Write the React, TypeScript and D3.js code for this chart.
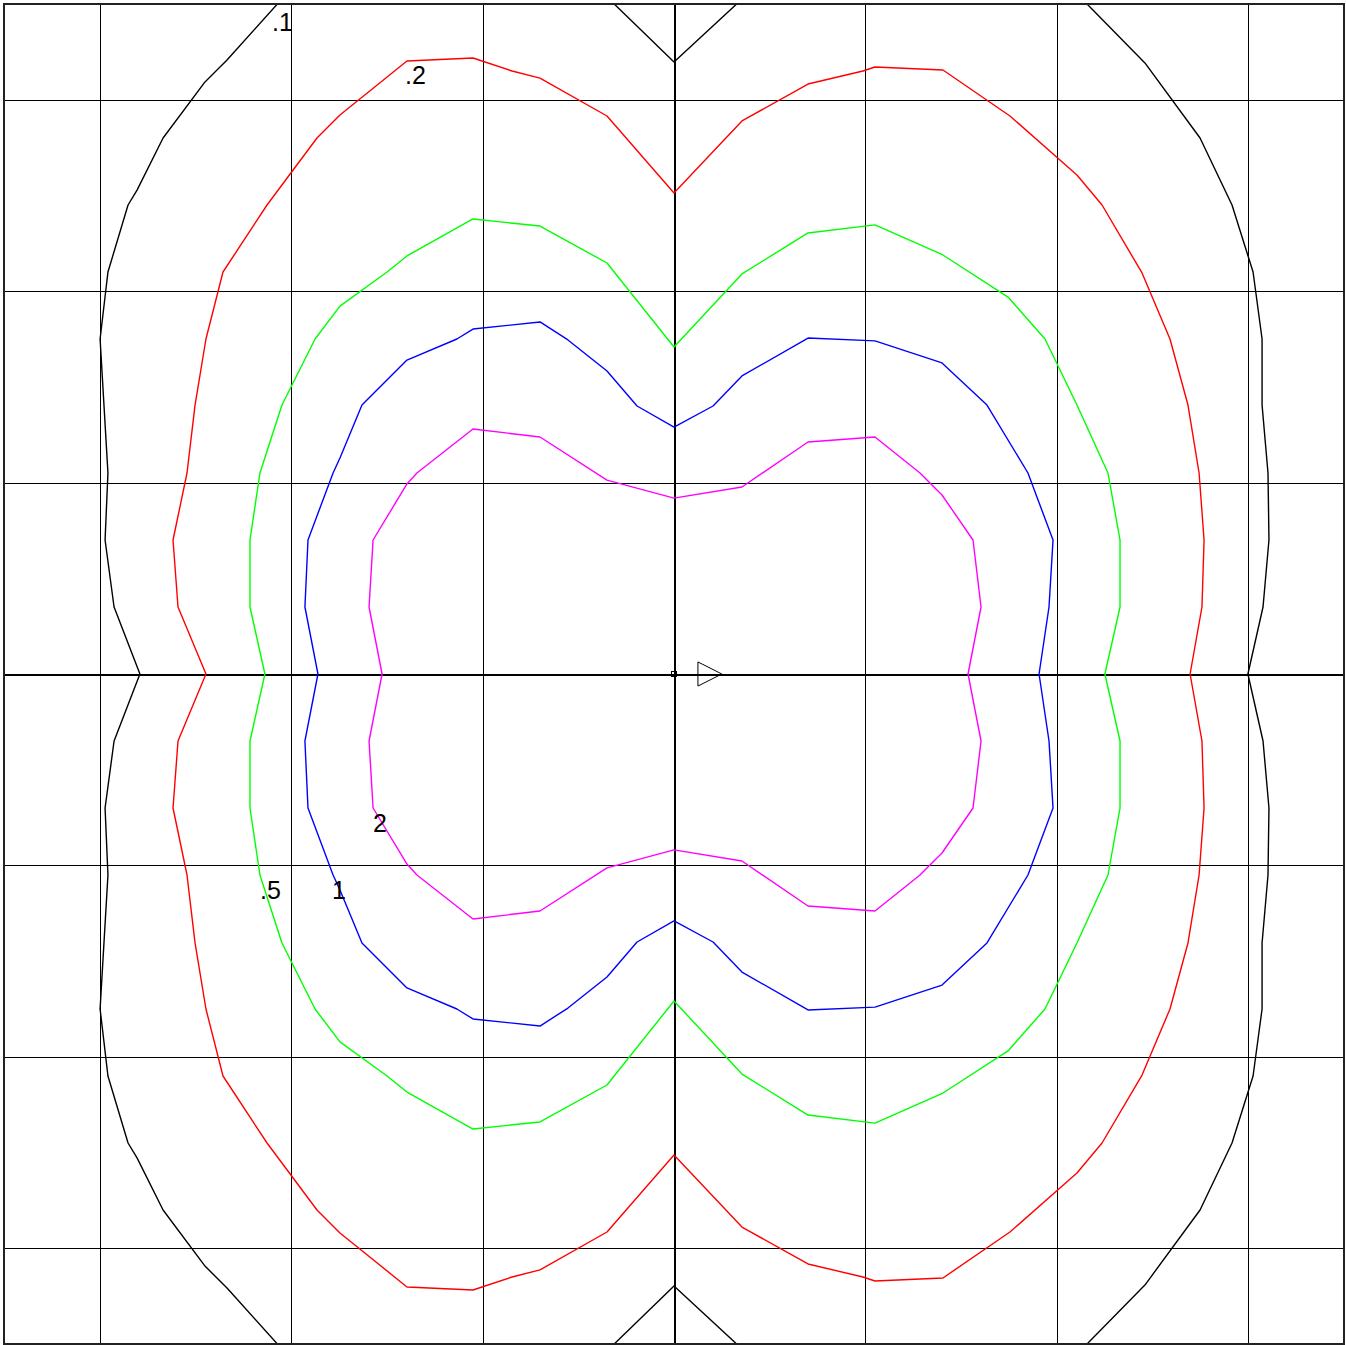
import * as d3 from 'd3';
import { useEffect, useRef } from 'react';

// isolux levels and colours
const levels = ['.1', '.2', '.5', '1', '2'];
const colors = ['#000000', '#ff0000', '#00ff00', '#0000ff', '#ff00ff'];

// upper half of each contour, left to right, in metres (bottom half is mirrored)
const lux01: [number, number][] = [
  [-2.79, 0], [-2.925, 0.35], [-2.972, 0.7], [-2.957, 1.05], [-2.998, 1.75], [-2.957, 2.1],
  [-2.852, 2.45], [-2.805, 2.528], [-2.669, 2.8], [-2.45, 3.093], [-2.335, 3.207], [-2.053, 3.521],
  [-0.334, 3.521], [0, 3.197], [0.35, 3.521],
  [2.137, 3.521], [2.46, 3.192], [2.748, 2.8], [2.915, 2.45], [3.025, 2.1], [3.072, 1.75],
  [3.072, 1.405], [3.103, 1.05], [3.108, 0.7], [3.077, 0.35], [2.998, 0],
];
const lux02: [number, number][] = [
  [-2.445, 0], [-2.591, 0.35], [-2.617, 0.7], [-2.544, 1.05], [-2.502, 1.405], [-2.445, 1.75],
  [-2.356, 2.1], [-2.126, 2.45], [-1.865, 2.8], [-1.745, 2.92], [-1.395, 3.202], [-1.05, 3.218],
  [-0.846, 3.15], [-0.7, 3.113], [-0.35, 2.915], [0, 2.513], [0.355, 2.889], [0.7, 3.082],
  [0.987, 3.15], [1.05, 3.171], [1.405, 3.155], [1.755, 2.915], [2.105, 2.607], [2.236, 2.45],
  [2.445, 2.095], [2.591, 1.75], [2.685, 1.405], [2.743, 1.05], [2.769, 0.7], [2.758, 0.35], [2.696, 0],
];
const lux05: [number, number][] = [
  [-2.137, 0], [-2.215, 0.35], [-2.215, 0.7], [-2.163, 1.05], [-2.048, 1.405], [-1.875, 1.75],
  [-1.745, 1.922], [-1.499, 2.1], [-1.395, 2.184], [-1.05, 2.377], [-0.7, 2.34], [-0.35, 2.147],
  [0, 1.708], [0.355, 2.09], [0.7, 2.304], [1.05, 2.346], [1.405, 2.189], [1.745, 1.969],
  [1.938, 1.75], [2.105, 1.405], [2.267, 1.05], [2.33, 0.7], [2.33, 0.35], [2.251, 0],
];
const lux1: [number, number][] = [
  [-1.86, 0], [-1.928, 0.35], [-1.912, 0.7], [-1.781, 1.05], [-1.745, 1.128], [-1.63, 1.405],
  [-1.395, 1.64], [-1.134, 1.75], [-1.05, 1.802], [-0.7, 1.839], [-0.554, 1.745], [-0.35, 1.583],
  [-0.193, 1.4], [0, 1.29], [0.204, 1.4], [0.355, 1.557], [0.7, 1.755], [1.05, 1.74], [1.4, 1.625],
  [1.635, 1.405], [1.849, 1.05], [1.98, 0.7], [1.959, 0.35], [1.907, 0],
];
const lux2: [number, number][] = [
  [-1.525, 0], [-1.593, 0.35], [-1.572, 0.7], [-1.395, 0.993], [-1.343, 1.05], [-1.05, 1.28],
  [-0.7, 1.238], [-0.35, 1.013], [0, 0.919], [0.355, 0.977], [0.7, 1.212], [1.05, 1.238],
  [1.285, 1.05], [1.4, 0.935], [1.562, 0.7], [1.604, 0.35], [1.536, 0],
];
const contours = [lux01, lux02, lux05, lux1, lux2];

// label anchor points (metres)
const labelPos: [number, number][] = [[-2.1, 3.359], [-1.405, 3.082], [-2.163, -1.175], [-1.787, -1.175], [-1.572, -0.825]];

const gridTicks = [-3, -2, -1, 0, 1, 2, 3];

export default function App() {
  const ref = useRef<SVGSVGElement | null>(null);

  useEffect(() => {
    if (!ref.current) return;
    const svg = d3.select(ref.current);
    svg.selectAll('*').remove();

    const x = d3.scaleLinear().domain([-3.5, 3.5]).range([4, 1344]);
    const y = d3.scaleLinear().domain([-3.5, 3.5]).range([1344, 4]);

    svg.append('defs').append('clipPath').attr('id', 'frame')
      .append('rect').attr('x', 4).attr('y', 4).attr('width', 1340).attr('height', 1340);

    // grid
    const g = svg.append('g').attr('shape-rendering', 'crispEdges');
    g.selectAll('line.v').data(gridTicks).join('line')
      .attr('x1', (d) => Math.round(x(d)) + 0.5).attr('x2', (d) => Math.round(x(d)) + 0.5)
      .attr('y1', 4).attr('y2', 1344)
      .attr('stroke', '#000').attr('stroke-width', (d) => (d === 0 ? 2 : 1));
    g.selectAll('line.h').data(gridTicks).join('line')
      .attr('y1', (d) => Math.round(y(d)) + 0.5).attr('y2', (d) => Math.round(y(d)) + 0.5)
      .attr('x1', 4).attr('x2', 1344)
      .attr('stroke', '#000').attr('stroke-width', (d) => (d === 0 ? 2 : 1));

    // contours: upper half + mirrored lower half
    const line = d3.line<[number, number]>().x((d) => x(d[0])).y((d) => y(d[1])).curve(d3.curveLinearClosed);
    svg.append('g').attr('clip-path', 'url(#frame)')
      .selectAll('path').data(contours).join('path')
      .attr('d', (pts) => {
        const lower = pts.slice().reverse().map(([a, b]) => [a, -b] as [number, number]);
        return line([...pts, ...lower.slice(1, -1)]);
      })
      .attr('fill', 'none')
      .attr('stroke', (_, i) => colors[i])
      .attr('stroke-width', 1.4)
      .attr('stroke-linejoin', 'round');

    // labels
    svg.append('g').selectAll('text').data(levels).join('text')
      .attr('x', (_, i) => x(labelPos[i][0]))
      .attr('y', (_, i) => y(labelPos[i][1]))
      .attr('font-family', 'Liberation Sans, Arial, sans-serif')
      .attr('font-size', 25)
      .attr('fill', '#000')
      .text((d) => d);

    // luminaire marker
    svg.append('rect')
      .attr('x', x(0) - 2.5).attr('y', y(0) - 2.5).attr('width', 5).attr('height', 5)
      .attr('fill', 'none').attr('stroke', '#000').attr('stroke-width', 1);
    const tri = [[0.125, 0.063], [0.125, -0.063], [0.25, 0]];
    svg.append('path')
      .attr('d', d3.line().curve(d3.curveLinearClosed)(tri.map(([a, b]) => [x(a), y(b)] as [number, number])))
      .attr('fill', 'none').attr('stroke', '#000').attr('stroke-width', 1);

    // frame
    svg.append('rect').attr('x', 4).attr('y', 4).attr('width', 1340).attr('height', 1340)
      .attr('fill', 'none').attr('stroke', '#222').attr('stroke-width', 2);
  }, []);

  return (
    <div style={{ position: 'absolute', left: 0, top: 0 }}>
      <svg ref={ref} width={1346} height={1345} style={{ display: 'block', background: '#fff' }} />
    </div>
  );
}
